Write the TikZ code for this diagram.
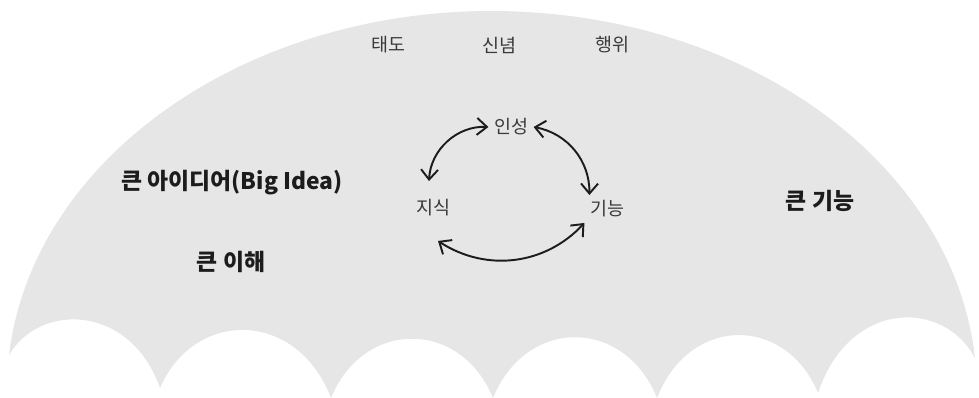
\documentclass[tikz,border=0pt]{standalone}
\usepackage{fontspec}
\newfontfamily\krfont{Noto Sans CJK KR}
\usepackage{xcolor}
\usetikzlibrary{arrows.meta}
\definecolor{canopygray}{HTML}{E6E6E6}
\definecolor{labelgray}{HTML}{3A3A3A}
\definecolor{darktext}{HTML}{1C1C1C}
\tikzset{
  canopy/.style={fill=canopygray, draw=none},
  valuelabel/.style={font=\krfont\fontsize{10.5}{12}\selectfont, text=labelgray, inner sep=3pt},
  corelabel/.style={font=\krfont\fontsize{10.5}{12}\selectfont, text=labelgray, inner sep=3pt},
  biglabel/.style={font=\krfont\bfseries\fontsize{13}{15}\selectfont, text=darktext, inner sep=3pt},
  cyclearrow/.style={darktext, line width=1.1pt, >={Straight Barb[length=2mm,width=3.4mm]}, <->}
}
\begin{document}
\begin{tikzpicture}[x=0.02cm, y=0.02cm]
  \useasboundingbox (0,0) rectangle (979,398);
  \fill[canopy] (9,43) arc[start angle=174.56, end angle=4.98, x radius=485, y radius=380]
    .. controls (943.6,99) and (849.4,99) .. (818,5)
    .. controls (785.8,83) and (689.2,83) .. (657,0)
    .. controls (624.2,81) and (525.8,81) .. (493,0)
    .. controls (460.6,79) and (363.4,79) .. (331,0)
    .. controls (296.8,89) and (194.2,89) .. (160,10)
    .. controls (129.8,95) and (39.2,95) .. (9,43) -- cycle;
  \node[valuelabel] (taedo) at (388,353) {태도};
  \node[valuelabel] (sinnyeom) at (499,353) {신념};
  \node[valuelabel] (haengwi) at (612,353) {행위};
  \node[corelabel] (inseong) at (511,271) {인성};
  \node[corelabel] (jisik) at (433,190) {지식};
  \node[corelabel] (gineung) at (607,189) {기능};
  \node[biglabel] (bigidea) at (232,215) {큰 아이디어(Big Idea)};
  \node[biglabel] (bigunder) at (231,136) {큰 이해};
  \node[biglabel] (bigskill) at (820,197) {큰 기능};
  \draw[cyclearrow] (inseong.west) to[bend right=45] ([xshift=-0.08cm, yshift=0.26cm]jisik.north);
  \draw[cyclearrow] (inseong.east) to[bend left=40] ([xshift=0.1cm]gineung.north west);
  \draw[cyclearrow] ([xshift=0.1cm, yshift=-0.38cm]jisik.south) to[bend right=40] (gineung.south west);
\end{tikzpicture}
\end{document}
